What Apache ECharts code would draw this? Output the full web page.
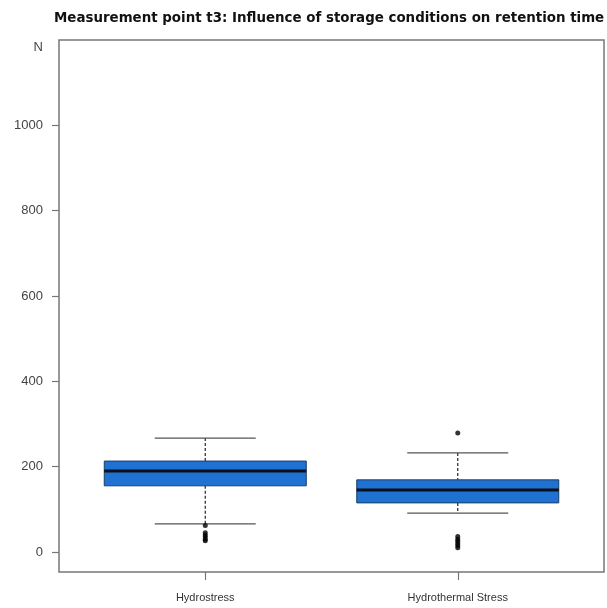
<!DOCTYPE html>
<html>
<head>
<meta charset="utf-8">
<script src="https://cdn.jsdelivr.net/npm/echarts@6/dist/echarts.min.js"></script>
<style>
  html, body { margin: 0; padding: 0; background: #fff; }
  #chart { width: 607px; height: 608px; }
</style>
</head>
<body>
<div id="chart"></div>
<script>
// groups on the x axis
const categories = ["Hydrostress", "Hydrothermal Stress"];
// [low whisker, Q1, median, Q3, high whisker]
const boxStats = [
  [66, 155, 190, 213, 267],
  [91, 115, 145, 169, 232]
];
// outliers per group
const outliersHydro = [62, 45, 40, 35, 30, 26];
const outliersThermal = [279, 36, 30, 25, 20, 15, 10];
const yTicks = [0, 200, 400, 600, 800, 1000];

const boxData = boxStats.map((s, i) => [i].concat(s));
const outlierData = []
  .concat(outliersHydro.map((v) => [0, v]))
  .concat(outliersThermal.map((v) => [1, v]));

function renderBox(params, api) {
  const idx = api.value(0);
  const low = api.coord([idx, api.value(1)]);
  const q1 = api.coord([idx, api.value(2)]);
  const med = api.coord([idx, api.value(3)]);
  const q3 = api.coord([idx, api.value(4)]);
  const high = api.coord([idx, api.value(5)]);
  const band = api.size([1, 0])[0];
  const bw = band * 0.8;
  const cw = band * 0.4;
  const cx = med[0];
  const dash = { stroke: "#222", lineWidth: 1.2, lineDash: [3, 2] };
  const cap = { stroke: "#555", lineWidth: 1.3 };
  return {
    type: "group",
    children: [
      { type: "line", shape: { x1: cx, y1: high[1], x2: cx, y2: q3[1] }, style: dash },
      { type: "line", shape: { x1: cx, y1: q1[1], x2: cx, y2: low[1] }, style: dash },
      { type: "line", shape: { x1: cx - cw / 2, y1: high[1], x2: cx + cw / 2, y2: high[1] }, style: cap },
      { type: "line", shape: { x1: cx - cw / 2, y1: low[1], x2: cx + cw / 2, y2: low[1] }, style: cap },
      {
        type: "rect",
        shape: { x: cx - bw / 2, y: q3[1], width: bw, height: q1[1] - q3[1] },
        style: { fill: "#1f72d2", stroke: "#1a3d66", lineWidth: 1 }
      },
      { type: "line", shape: { x1: cx - bw / 2, y1: med[1], x2: cx + bw / 2, y2: med[1] }, style: { stroke: "#0a0f1e", lineWidth: 3 } }
    ]
  };
}

const chart = echarts.init(document.getElementById("chart"));
chart.setOption({
  animation: false,
  backgroundColor: "#fff",
  title: {
    text: "Measurement point t3: Influence of storage conditions on retention time",
    left: 49,
    top: 7,
    textStyle: { fontFamily: "DejaVu Sans", fontSize: 13.4, fontWeight: "bold", color: "#111" }
  },
  grid: [
    { left: 59, right: 3, top: 40, bottom: 36, show: true, borderColor: "#777", borderWidth: 1.5, backgroundColor: "transparent" },
    { left: 79, right: 23, top: 40, bottom: 36 }
  ],
  xAxis: [
    { type: "value", gridIndex: 0, min: 0, max: 1, show: false },
    {
      type: "category",
      gridIndex: 1,
      position: "bottom",
      data: categories,
      axisLine: { show: false, onZero: false },
      axisTick: { show: true, alignWithLabel: true, length: 8, lineStyle: { color: "#777", width: 1.2 } },
      axisLabel: { fontFamily: "Liberation Sans", fontSize: 11, color: "#333", margin: 20 }
    }
  ],
  yAxis: [
    {
      type: "value",
      gridIndex: 0,
      min: -47,
      max: 1200,
      splitLine: { show: false },
      axisLine: { show: false },
      axisTick: { show: true, length: 7, customValues: yTicks, lineStyle: { color: "#777", width: 1.2 } },
      axisLabel: {
        customValues: yTicks.concat([1200]),
        formatter: (v) => (v === 1200 ? "{n|N}" : String(v)),
        rich: { n: { padding: [14, 0, 0, 0], fontFamily: "Liberation Sans", fontSize: 13, color: "#444" } },
        fontFamily: "Liberation Sans",
        fontSize: 13,
        color: "#444",
        margin: 16
      }
    },
    { type: "value", gridIndex: 1, min: -47, max: 1200, show: false }
  ],
  series: [
    {
      type: "custom",
      xAxisIndex: 1,
      yAxisIndex: 1,
      data: boxData,
      renderItem: renderBox
    },
    {
      type: "scatter",
      xAxisIndex: 1,
      yAxisIndex: 1,
      data: outlierData,
      symbolSize: 5,
      itemStyle: { color: "#000" }
    }
  ]
});
</script>
</body>
</html>
